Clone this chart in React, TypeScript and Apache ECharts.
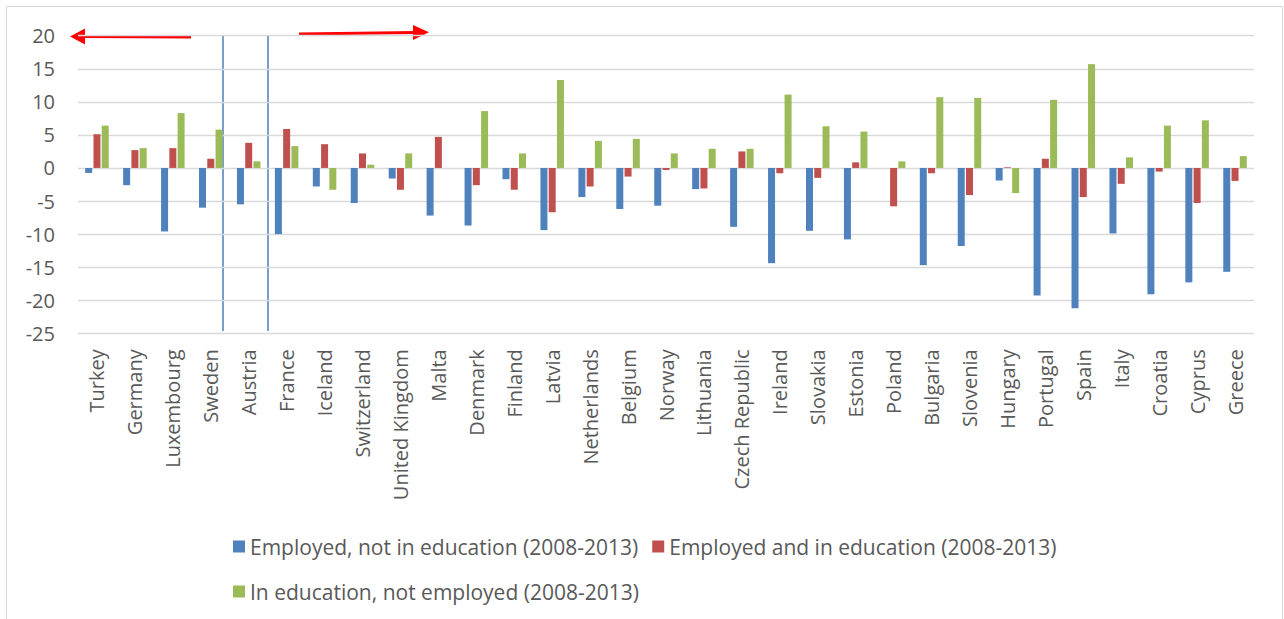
import React, { useEffect, useRef } from "react";
import * as echarts from "echarts";

const categories = [
  "Turkey", "Germany", "Luxembourg", "Sweden", "Austria", "France", "Iceland",
  "Switzerland", "United Kingdom", "Malta", "Denmark", "Finland", "Latvia",
  "Netherlands", "Belgium", "Norway", "Lithuania", "Czech Republic", "Ireland",
  "Slovakia", "Estonia", "Poland", "Bulgaria", "Slovenia", "Hungary", "Portugal",
  "Spain", "Italy", "Croatia", "Cyprus", "Greece",
];

const seriesNames = [
  "Employed, not in education (2008-2013)",
  "Employed and in education (2008-2013)",
  "In education, not employed (2008-2013)",
];

const employedNotEdu = [
  -0.75, -2.6, -9.6, -6.0, -5.5, -10.0, -2.8, -5.3, -1.6, -7.2, -8.7, -1.7, -9.4,
  -4.4, -6.2, -5.7, -3.2, -8.9, -14.4, -9.5, -10.8, 0, -14.7, -11.8, -1.9, -19.3,
  -21.2, -9.9, -19.1, -17.3, -15.7,
];
const employedAndEdu = [
  5.1, 2.7, 3.0, 1.4, 3.8, 5.9, 3.6, 2.2, -3.3, 4.7, -2.6, -3.3, -6.7, -2.8, -1.3,
  -0.3, -3.1, 2.5, -0.8, -1.5, 0.85, -5.8, -0.8, -4.1, 0.1, 1.4, -4.4, -2.4, -0.55,
  -5.3, -1.96,
];
const eduNotEmployed = [
  6.4, 3.0, 8.3, 5.8, 1.0, 3.3, -3.3, 0.5, 2.2, 0, 8.6, 2.2, 13.3, 4.1, 4.4, 2.2,
  2.9, 2.9, 11.1, 6.3, 5.5, 1.0, 10.7, 10.6, -3.8, 10.3, 15.7, 1.6, 6.4, 7.2, 1.8,
];

const yTicks = { min: -25, max: 20, interval: 5 };
const colors = ["#4F81BD", "#C0504D", "#9BBB59"];

export default function App() {
  const ref = useRef<HTMLDivElement>(null);

  useEffect(() => {
    if (!ref.current) return;
    const chart = echarts.init(ref.current, undefined, { renderer: "svg" });
    const data = [employedNotEdu, employedAndEdu, eduNotEmployed];
    const red = "#FF0000";
    const blueLine = "#4A7EBB";
    const legendText = { fontFamily: "Open Sans", fontSize: 21, color: "#595959" };
    chart.setOption({
      animation: false,
      backgroundColor: "#ffffff",
      color: colors,
      grid: { left: 78, right: 30, top: 35.7, height: 297.6, containLabel: false },
      xAxis: {
        type: "category",
        data: categories,
        axisLine: { show: false },
        axisTick: { show: false },
        axisLabel: {
          rotate: 90,
          interval: 0,
          margin: 16,
          color: "#595959",
          fontFamily: "Open Sans",
          fontSize: 20,
        },
        splitLine: { show: false },
      },
      yAxis: {
        type: "value",
        min: yTicks.min,
        max: yTicks.max,
        interval: yTicks.interval,
        axisLine: { show: false },
        axisTick: { show: false },
        axisLabel: {
          margin: 23,
          color: "#595959",
          fontFamily: "Open Sans",
          fontSize: 20,
        },
        splitLine: { lineStyle: { color: "#D9D9D9", width: 1.3 } },
      },
      legend: [
        {
          data: [seriesNames[0], seriesNames[1]],
          left: 228,
          top: 531,
          itemWidth: 12,
          itemHeight: 12,
          itemGap: 14,
          icon: "rect",
          textStyle: legendText,
        },
        {
          data: [seriesNames[2]],
          left: 228,
          top: 576,
          itemWidth: 12,
          itemHeight: 12,
          icon: "rect",
          textStyle: legendText,
        },
      ],
      series: seriesNames.map((name, i) => ({
        name,
        type: "bar",
        data: data[i],
        barWidth: 7,
        barGap: "18%",
        itemStyle: { color: colors[i] },
      })),
      graphic: [
        {
          type: "rect",
          shape: { x: 6.5, y: 6.5, width: 1276, height: 700 },
          style: { fill: "none", stroke: "#D9D9D9", lineWidth: 1 },
          silent: true,
        },
        {
          type: "line",
          shape: { x1: 223, y1: 35, x2: 223, y2: 331 },
          style: { stroke: blueLine, lineWidth: 1.5 },
        },
        {
          type: "line",
          shape: { x1: 268, y1: 35, x2: 268, y2: 331 },
          style: { stroke: blueLine, lineWidth: 1.5 },
        },
        {
          type: "line",
          shape: { x1: 191, y1: 37, x2: 82, y2: 36.5 },
          style: { stroke: red, lineWidth: 3 },
        },
        {
          type: "polygon",
          shape: { points: [[70, 36.5], [85, 28.5], [85, 44.5]] },
          style: { fill: red },
        },
        {
          type: "line",
          shape: { x1: 299, y1: 34, x2: 416, y2: 32.5 },
          style: { stroke: red, lineWidth: 3 },
        },
        {
          type: "polygon",
          shape: { points: [[429, 32.3], [413, 25], [413, 40]] },
          style: { fill: red },
        },
      ],
    });
    return () => chart.dispose();
  }, []);

  return (
    <div
      ref={ref}
      style={{ position: "fixed", left: 0, top: 0, width: 1284, height: 619, background: "#fff" }}
    />
  );
}
